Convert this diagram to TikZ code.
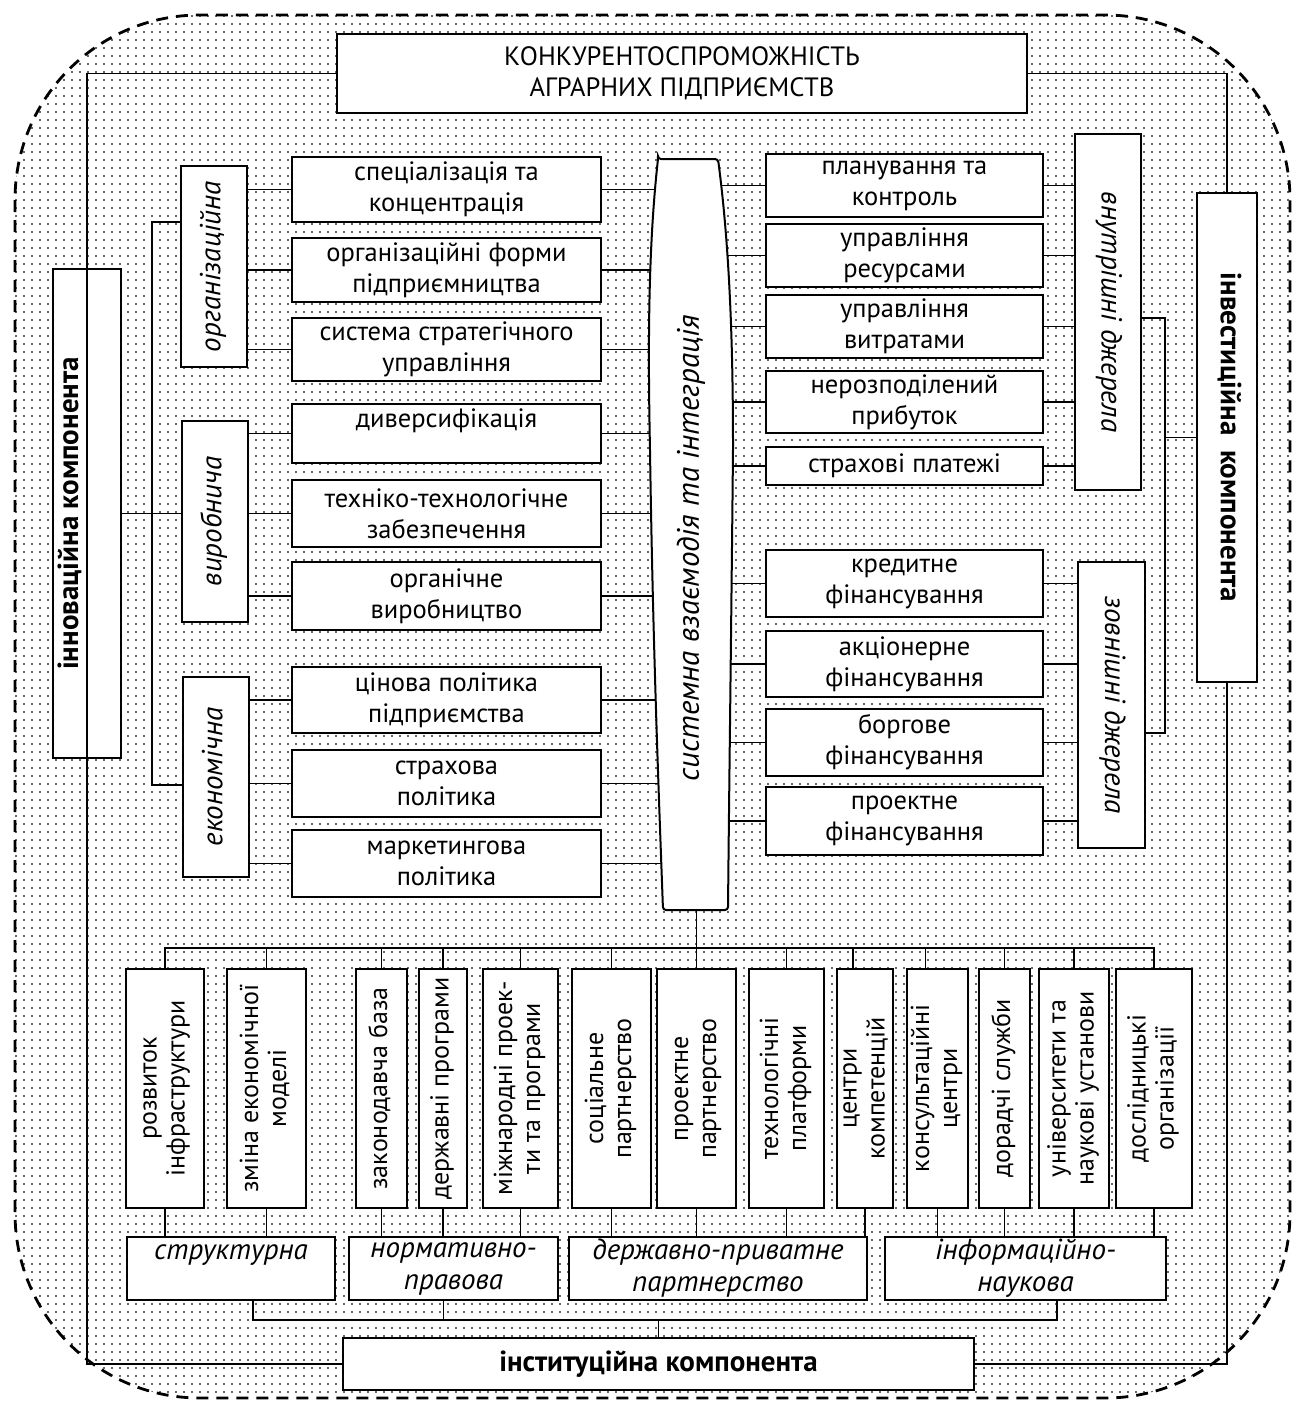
\documentclass[tikz,border=0pt]{standalone}
\usepackage{fontspec}
\setmainfont{PT Sans}
\usetikzlibrary{patterns.meta}
\newcommand\vtxt[2]{\rotatebox{#1}{\begin{tabular}{@{}c@{}}#2\end{tabular}}}
\begin{document}
\begin{tikzpicture}[x=1pt,y=-1pt,
  box/.style={draw, line width=2pt, fill=white, inner sep=0pt, align=center,
    font=\fontsize{26.5}{31}\selectfont},
  vbox/.style={box, minimum height=239pt, font=\fontsize{26}{28}\selectfont},
  itl/.style={font=\fontsize{29}{32}\selectfont\itshape},
  bld/.style={font=\fontsize{29}{31}\selectfont\bfseries},
  conn/.style={line width=1.7pt},
  lbox/.style={box, minimum width=309pt},
  rbox/.style={box, minimum width=277pt},
  cbox/.style={box, itl, minimum height=63pt}]
\useasboundingbox (0,0) rectangle (1298,1408);

% dotted background with dashed rounded border
\path[pattern={Dots[distance=8pt,radius=1.2pt]}, pattern color=black!80, rounded corners=185pt]
  (15,15) rectangle (1290,1398);
\draw[line width=2.8pt, dash pattern=on 12pt off 8pt, rounded corners=185pt]
  (15,15) rectangle (1290,1398);

% title
\node[box, minimum width=690pt, minimum height=79pt] (title) at (682,73.5)
  {КОНКУРЕНТОСПРОМОЖНІСТЬ\\АГРАРНИХ ПІДПРИЄМСТВ};

% side components
\node[box, bld, minimum width=68pt, minimum height=489pt] (innov) at (87,513.5)
  {\vtxt{90}{інноваційна компонента}\hspace*{30pt}};
\node[box, bld, minimum width=60pt, minimum height=489pt] (inv) at (1227,437.5)
  {\vtxt{-90}{інвестиційна\ \ компонента}};
\node[box, bld, minimum width=631pt, minimum height=52pt] (inst) at (658.5,1364)
  {інституційна компонента};

% left categories
\node[box, itl, minimum width=66pt, minimum height=201pt] (org) at (214,266.5) {\vtxt{90}{організаційна}};
\node[box, itl, minimum width=66pt, minimum height=201pt] (vyr) at (215,521.5) {\vtxt{90}{виробнича}};
\node[box, itl, minimum width=66pt, minimum height=200pt] (eko) at (216,777) {\vtxt{90}{економічна}};

% left items
\node[lbox, minimum height=65pt] (a1) at (446.5,189.5) {спеціалізація та\\концентрація};
\node[lbox, minimum height=64pt] (a2) at (446.5,270) {організаційні форми\\підприємництва};
\node[lbox, minimum height=63pt] (a3) at (446.5,349.5) {система стратегічного\\управління};
\node[lbox, minimum height=59pt] (a4) at (446.5,433.5) {диверсифікація\\\mbox{}};
\node[lbox, minimum height=67pt] (a5) at (446.5,513.5) {техніко-технологічне\\забезпечення};
\node[lbox, minimum height=68pt] (a6) at (446.5,596) {органічне\\виробництво};
\node[lbox, minimum height=66pt] (a7) at (446.5,700) {цінова політика\\підприємства};
\node[lbox, minimum height=67pt] (a8) at (446.5,783.5) {страхова\\політика};
\node[lbox, minimum height=67pt] (a9) at (446.5,863.5) {маркетингова\\політика};

% right items
\node[rbox, minimum height=63pt] (b1) at (904.5,185.5) {планування та\\контроль};
\node[rbox, minimum height=63pt] (b2) at (904.5,255.5) {управління\\ресурсами};
\node[rbox, minimum height=63pt] (b3) at (904.5,326.5) {управління\\витратами};
\node[rbox, minimum height=62pt] (b4) at (904.5,402) {нерозподілений\\прибуток};
\node[rbox, minimum height=38pt] (b5) at (904.5,466) {страхові платежі};
\node[rbox, minimum height=67pt] (b6) at (904.5,583.5) {кредитне\\фінансування};
\node[rbox, minimum height=66pt] (b7) at (904.5,664) {акціонерне\\фінансування};
\node[rbox, minimum height=67pt] (b8) at (904.5,742.5) {боргове\\фінансування};
\node[rbox, minimum height=68pt] (b9) at (904.5,821) {проектне\\фінансування};

% sources
\node[box, itl, minimum width=66pt, minimum height=356pt] (intl) at (1108,312) {\vtxt{-90}{внутрішні джерела}};
\node[box, itl, minimum width=67pt, minimum height=286pt] (ext) at (1111.5,705) {\vtxt{-90}{зовнішні джерела}};

% bottom vertical boxes
\node[vbox, minimum width=78pt] (v1) at (165,1088.5) {\vtxt{90}{розвиток\\інфраструктури}};
\node[vbox, minimum width=79pt] (v2) at (266.5,1088.5) {\vtxt{90}{зміна економічної\\моделі}};
\node[vbox, minimum width=51pt] (v3) at (381.5,1088.5) {\vtxt{90}{законодавча база}};
\node[vbox, minimum width=48pt] (v4) at (443,1088.5) {\vtxt{90}{державні програми}};
\node[vbox, minimum width=75pt] (v5) at (520.5,1088.5) {\vtxt{90}{міжнародні проек-\\ти та програми}};
\node[vbox, minimum width=79pt] (v6) at (611.5,1088.5) {\vtxt{90}{соціальне\\партнерство}};
\node[vbox, minimum width=79pt] (v7) at (696.5,1088.5) {\vtxt{90}{проектне\\партнерство}};
\node[vbox, minimum width=75pt] (v8) at (786.5,1088.5) {\vtxt{90}{технологічні\\платформи}};
\node[vbox, minimum width=56pt] (v9) at (865,1088.5) {\vtxt{90}{центри\\компетенцій}};
\node[vbox, minimum width=61pt] (v10) at (937.5,1088.5) {\vtxt{90}{консультаційні\\центри}};
\node[vbox, minimum width=51pt] (v11) at (1004.5,1088.5) {\vtxt{90}{дорадчі служби}};
\node[vbox, minimum width=70pt] (v12) at (1074,1088.5) {\vtxt{90}{університети та\\наукові установи}};
\node[vbox, minimum width=76pt] (v13) at (1154,1088.5) {\vtxt{90}{дослідницькі\\організації}};

% bottom categories
\node[cbox, minimum width=208pt] (c1) at (231,1268.5) {структурна\\\mbox{}};
\node[cbox, minimum width=209pt] (c2) at (453.5,1268.5) {нормативно-\\правова};
\node[cbox, minimum width=298pt] (c3) at (718,1268.5) {державно-приватне\\партнерство};
\node[cbox, minimum width=281pt] (c4) at (1025.5,1268.5) {інформаційно-\\наукова};

% helper coordinates
\coordinate (cc) at (692,548);
\coordinate (cbot) at (696.5,910);
\coordinate (sp1) at (152,222);
\coordinate (sp2) at (152,785);
\coordinate (br1) at (1165,318);
\coordinate (br2) at (1165,733);
\coordinate (tbus) at (0,948);
\coordinate (bbus) at (0,1320);
\coordinate (fTL) at (innov.center |- title.west);
\coordinate (fBL) at (innov.center |- inst.west);
\coordinate (fTR) at (inv.center |- title.east);
\coordinate (fBR) at (inv.center |- inst.east);

% frame
\draw[conn] (title.west) -- (fTL) -- (fBL) -- (inst.west);
\draw[conn] (title.east) -- (fTR) -- (inv.north);
\draw[conn] (inv.south) -- (fBR) -- (inst.east);

% left spine
\draw[conn] (org.west |- sp1) -- (sp1) -- (sp2) -- (eko.west |- sp2);
\draw[conn] (innov.east) -- (innov.east -| vyr.west);
\foreach \c/\i in {org/a1,org/a2,org/a3,vyr/a4,vyr/a5,vyr/a6,eko/a7,eko/a8,eko/a9}
  \draw[conn] (\c.east |- \i.west) -- (\i.west);
\foreach \i in {a1,a2,a3,a4,a5,a6,a7,a8,a9}
  \draw[conn] (\i.east) -- (\i.east -| cc);
\foreach \i in {b1,b2,b3,b4,b5,b6,b7,b8,b9}
  \draw[conn] (\i.west -| cc) -- (\i.west);
\foreach \i in {b1,b2,b3,b4,b5}
  \draw[conn] (\i.east) -- (\i.east -| intl.west);
\foreach \i in {b6,b7,b8,b9}
  \draw[conn] (\i.east) -- (\i.east -| ext.west);
\draw[conn] (intl.east |- br1) -- (br1) -- (br2) -- (ext.east |- br2);
\draw[conn] (inv.west -| br1) -- (inv.west);

% bottom buses
\draw[conn] (cbot) -- (cbot |- v7.north);
\draw[conn] (v1.north) -- (v1.north |- tbus) -- (v13.north |- tbus) -- (v13.north);
\foreach \i in {v2,v3,v4,v5,v6,v8,v11,v12}
  \draw[conn] (\i.north) -- (\i.north |- tbus);
\draw[conn] ([xshift=-12pt]v9.north) -- ([xshift=-12pt]v9.north |- tbus);
\draw[conn] ([xshift=-12pt]v10.north) -- ([xshift=-12pt]v10.north |- tbus);
\foreach \v/\c in {v1/c1,v2/c1,v3/c2,v4/c2,v5/c2,v6/c3,v7/c3,v8/c3,v9/c3,v10/c4,v11/c4,v12/c4,v13/c4}
  \draw[conn] (\v.south) -- (\v.south |- \c.north);
\draw[conn] ([xshift=22pt]c1.south) -- ([xshift=22pt]c1.south |- bbus)
  -- ([xshift=31.5pt]c4.south |- bbus) -- ([xshift=31.5pt]c4.south);
\draw[conn] ([xshift=-10pt]c2.south) -- ([xshift=-10pt]c2.south |- bbus);
\draw[conn] (inst.north |- bbus) -- (inst.north);

% central barrel
\draw[line width=2pt, fill=white, rounded corners=3pt]
  (658,159) -- (718,159)
  .. controls (730,250) and (733,350) .. (733,450)
  .. controls (731,650) and (729,800) .. (728,910)
  -- (663,910)
  .. controls (659,800) and (653,650) .. (650,450)
  .. controls (648,350) and (648,250) .. (658,159) -- cycle;
\node[font=\fontsize{31}{34}\selectfont\itshape, inner sep=0pt] (central) at (cc)
  {\vtxt{90}{системна взаємодія та інтеграція}};
\end{tikzpicture}
\end{document}
